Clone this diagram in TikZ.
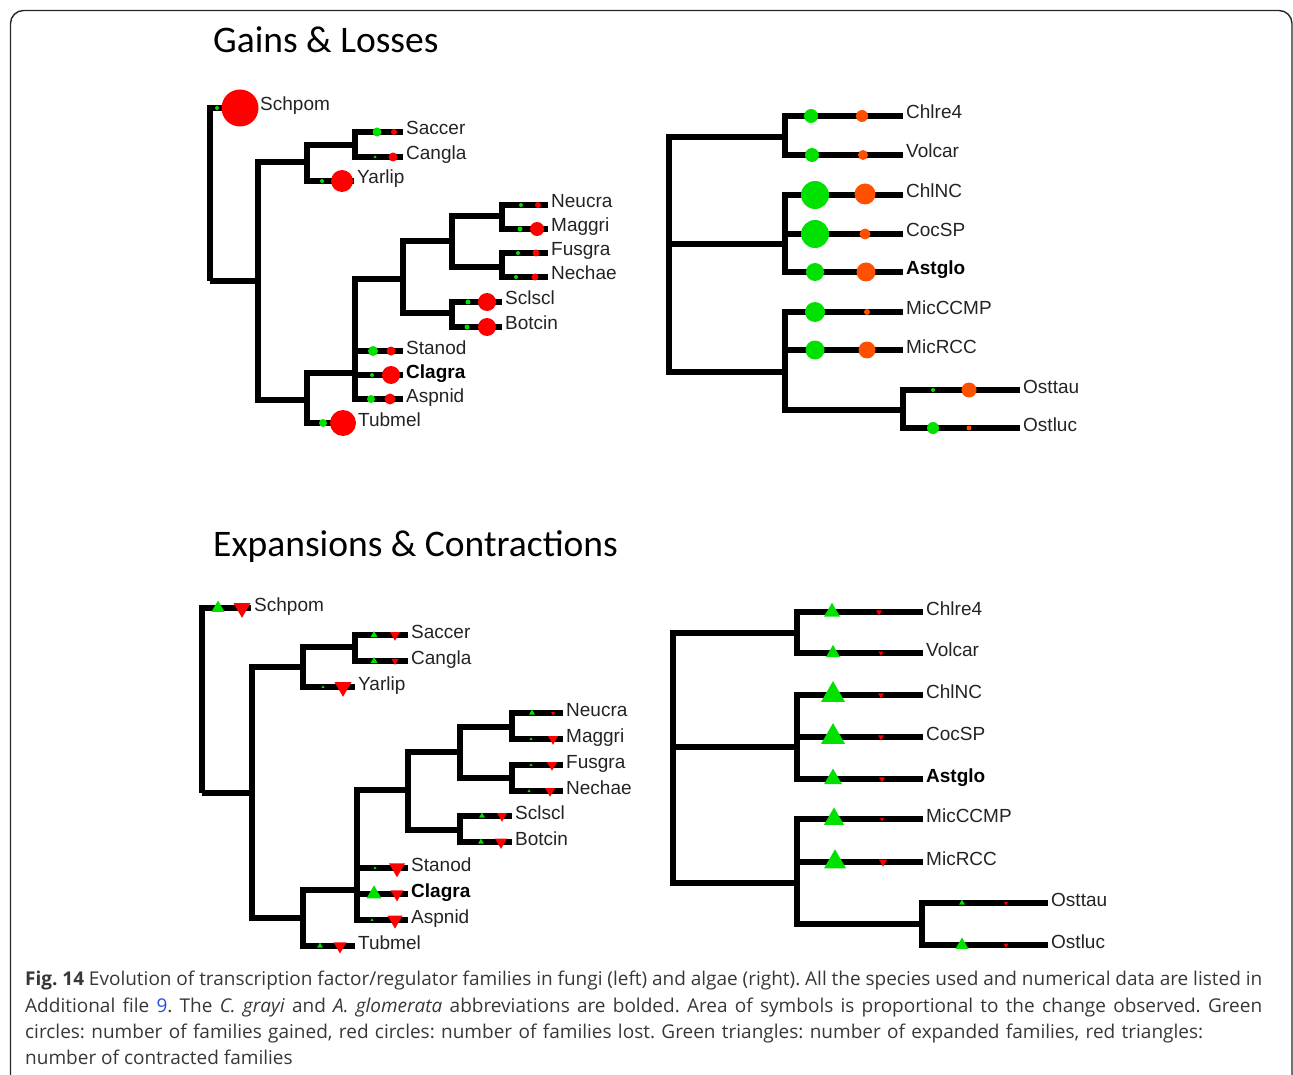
\documentclass[tikz,border=0pt]{standalone}
\usepackage{fontspec}
\setmainfont{Liberation Sans}
\newfontfamily\titlefont{Carlito}
\newfontfamily\capfont{Open Sans}
\usetikzlibrary{shapes.geometric}
\definecolor{gn}{RGB}{0,225,0}
\definecolor{rd}{RGB}{255,0,0}
\definecolor{og}{RGB}{255,80,0}
\definecolor{txt}{RGB}{35,35,35}
\definecolor{capc}{RGB}{55,55,55}
\definecolor{lnk}{RGB}{30,80,220}
\frenchspacing
\begin{document}
\begin{tikzpicture}[x=1pt,y=-1pt,
  branch/.style={line width=6.7pt, line join=miter, draw=black},
  mdot/.style={circle, inner sep=0pt, minimum size=#1, draw=none},
  gain/.style={mdot=#1, fill=gn},
  loss/.style={mdot=#1, fill=rd},
  losso/.style={mdot=#1, fill=og},
  mtri/.style={regular polygon, regular polygon sides=3, inner sep=0pt, minimum size={1.155*#1}, draw=none},
  expd/.style={mtri=#1, fill=gn},
  cntr/.style={mtri=#1, fill=rd, shape border rotate=180},
  leaflab/.style={anchor=base west, inner sep=0pt, xshift=3pt, yshift=-3pt, font=\fontsize{19}{22}\selectfont, text=txt},
  boldlab/.style={leaflab, font=\fontsize{19}{22}\selectfont\bfseries, text=black},
  ttl/.style={anchor=base west, inner sep=0pt, font=\titlefont\fontsize{37.5}{40}\selectfont, text=black},
  captxt/.style={anchor=base west, inner sep=0pt, font=\capfont\fontsize{19}{24}\selectfont\frenchspacing, text=capc}
]
\useasboundingbox (0,0) rectangle (1293,1075);
\begin{scope}
\clip (0,0) rectangle (1293,1075);
\draw[line width=1.4pt, draw=black!85, rounded corners=13pt] (10.5,1100) -- (10.5,10.5) -- (1292,10.5) -- (1292,1100);
\end{scope}

% titles
\node[ttl] (t1) at (213,53) {Gains \& Losses};
\node[ttl] (t2) at (213,556) {Expansions \& Contractions};

% ---------- top-left tree ----------
\coordinate (aT0) at (210,281);
\coordinate (aT1) at (258,281);
\coordinate (aT2) at (307,162);
\coordinate (aT3) at (355,145);
\coordinate (aT5) at (307,400);
\coordinate (aT6) at (355,373);
\coordinate (aT7) at (403,279);
\coordinate (aT8) at (452,241);
\coordinate (aT9) at (502,216);
\coordinate (aT10) at (502,267);
\coordinate (aT11) at (452,313);
\coordinate (aSchpom) at (257,108);
\coordinate (aSaccer) at (403,132);
\coordinate (aCangla) at (403,157);
\coordinate (aYarlip) at (354,181);
\coordinate (aNeucra) at (548,205);
\coordinate (aMaggri) at (548,229);
\coordinate (aFusgra) at (548,253);
\coordinate (aNechae) at (548,277);
\coordinate (aSclscl) at (502,302);
\coordinate (aBotcin) at (502,327);
\coordinate (aStanod) at (403,351);
\coordinate (aClagra) at (403,375);
\coordinate (aAspnid) at (403,399);
\coordinate (aTubmel) at (355,423);
\draw[branch] (aT0) -- (aT1);
\foreach \p/\c in {aT0/aSchpom, aT1/aT2, aT1/aT5, aT2/aT3, aT2/aYarlip, aT3/aSaccer, aT3/aCangla,
  aT5/aT6, aT5/aTubmel, aT6/aT7, aT6/aStanod, aT6/aClagra, aT6/aAspnid, aT7/aT8, aT7/aT11,
  aT8/aT9, aT8/aT10, aT9/aNeucra, aT9/aMaggri, aT10/aFusgra, aT10/aNechae, aT11/aSclscl, aT11/aBotcin}
  \draw[branch] (\p) |- (\c);
\node[gain=4] (aSchpomG) at (217,108) {};  \node[loss=37] (aSchpomR) at (240,108) {};
\node[gain=9] (aSaccerG) at (377,132) {};  \node[loss=6] (aSaccerR) at (394,132) {};
\node[gain=3] (aCanglaG) at (375,157) {};  \node[loss=9] (aCanglaR) at (393,157) {};
\node[gain=4] (aYarlipG) at (322,181) {};  \node[loss=22] (aYarlipR) at (342,181) {};
\node[gain=4] (aNeucraG) at (521,205) {};  \node[loss=6] (aNeucraR) at (538,205) {};
\node[gain=5] (aMaggriG) at (520,229) {};  \node[loss=14] (aMaggriR) at (537,229) {};
\node[gain=4] (aFusgraG) at (518,253) {};  \node[loss=7] (aFusgraR) at (536,253) {};
\node[gain=4] (aNechaeG) at (516,277) {};  \node[loss=7] (aNechaeR) at (535,277) {};
\node[gain=5] (aSclsclG) at (468,302) {};  \node[loss=18] (aSclsclR) at (487,302) {};
\node[gain=5] (aBotcinG) at (467,327) {};  \node[loss=18] (aBotcinR) at (487,327) {};
\node[gain=10] (aStanodG) at (373,351) {}; \node[loss=9] (aStanodR) at (391,351) {};
\node[gain=4] (aClagraG) at (372,375) {};  \node[loss=18] (aClagraR) at (391,375) {};
\node[gain=8] (aAspnidG) at (371,399) {};  \node[loss=11] (aAspnidR) at (390,399) {};
\node[gain=8] (aTubmelG) at (323,423) {};  \node[loss=26] (aTubmelR) at (343,423) {};
\node[leaflab] (aSchpomL) at (aSchpom) {Schpom};
\node[leaflab] (aSaccerL) at (aSaccer) {Saccer};
\node[leaflab] (aCanglaL) at (aCangla) {Cangla};
\node[leaflab] (aYarlipL) at (aYarlip) {Yarlip};
\node[leaflab] (aNeucraL) at (aNeucra) {Neucra};
\node[leaflab] (aMaggriL) at (aMaggri) {Maggri};
\node[leaflab] (aFusgraL) at (aFusgra) {Fusgra};
\node[leaflab] (aNechaeL) at (aNechae) {Nechae};
\node[leaflab] (aSclsclL) at (aSclscl) {Sclscl};
\node[leaflab] (aBotcinL) at (aBotcin) {Botcin};
\node[leaflab] (aStanodL) at (aStanod) {Stanod};
\node[boldlab] (aClagraL) at (aClagra) {Clagra};
\node[leaflab] (aAspnidL) at (aAspnid) {Aspnid};
\node[leaflab] (aTubmelL) at (aTubmel) {Tubmel};

% ---------- top-right tree ----------
\coordinate (bR0) at (669,244);
\coordinate (bR1) at (785,137);
\coordinate (bR2) at (785,244);
\coordinate (bR3) at (785,372);
\coordinate (bR4) at (903,410);
\coordinate (bChlre4) at (903,116);
\coordinate (bVolcar) at (903,155);
\coordinate (bChlNC) at (903,195);
\coordinate (bCocSP) at (903,234);
\coordinate (bAstglo) at (903,272);
\coordinate (bMicCCMP) at (903,312);
\coordinate (bMicRCC) at (903,350);
\coordinate (bOsttau) at (1020,390);
\coordinate (bOstluc) at (1020,428);
\draw[branch] (bR0) -- (bR2);
\foreach \p/\c in {bR0/bR1, bR0/bR3, bR1/bChlre4, bR1/bVolcar, bR2/bChlNC, bR2/bCocSP, bR2/bAstglo,
  bR3/bMicCCMP, bR3/bMicRCC, bR3/bR4, bR4/bOsttau, bR4/bOstluc}
  \draw[branch] (\p) |- (\c);
\node[gain=14] (bChlre4G) at (811,116) {};  \node[losso=12] (bChlre4R) at (862,116) {};
\node[gain=14] (bVolcarG) at (812,155) {};  \node[losso=10] (bVolcarR) at (863,155) {};
\node[gain=28] (bChlNCG) at (815,195) {};   \node[losso=21] (bChlNCR) at (865,194) {};
\node[gain=28] (bCocSPG) at (815,234) {};   \node[losso=11] (bCocSPR) at (865,234) {};
\node[gain=18] (bAstgloG) at (815,272) {};  \node[losso=19] (bAstgloR) at (866,272) {};
\node[gain=20] (bMicCCMPG) at (815,312) {}; \node[losso=6] (bMicCCMPR) at (867,312) {};
\node[gain=19] (bMicRCCG) at (815,350) {};  \node[losso=17] (bMicRCCR) at (867,350) {};
\node[gain=4] (bOsttauG) at (933,390) {};   \node[losso=15] (bOsttauR) at (969,390) {};
\node[gain=12] (bOstlucG) at (933,428) {};  \node[losso=5] (bOstlucR) at (969,428) {};
\node[leaflab] (bChlre4L) at (bChlre4) {Chlre4};
\node[leaflab] (bVolcarL) at (bVolcar) {Volcar};
\node[leaflab] (bChlNCL) at (bChlNC) {ChlNC};
\node[leaflab] (bCocSPL) at (bCocSP) {CocSP};
\node[boldlab] (bAstgloL) at (bAstglo) {Astglo};
\node[leaflab] (bMicCCMPL) at (bMicCCMP) {MicCCMP};
\node[leaflab] (bMicRCCL) at (bMicRCC) {MicRCC};
\node[leaflab] (bOsttauL) at (bOsttau) {Osttau};
\node[leaflab] (bOstlucL) at (bOstluc) {Ostluc};

% ---------- bottom-left tree ----------
\coordinate (cT0) at (202,793);
\coordinate (cT1) at (252,793);
\coordinate (cT2) at (303,667);
\coordinate (cT3) at (355,647);
\coordinate (cT5) at (303,918);
\coordinate (cT6) at (357,890);
\coordinate (cT7) at (408,790);
\coordinate (cT8) at (460,752);
\coordinate (cT9) at (512,727);
\coordinate (cT10) at (512,778);
\coordinate (cT11) at (460,830);
\coordinate (cSchpom) at (251,608);
\coordinate (cSaccer) at (408,635);
\coordinate (cCangla) at (408,661);
\coordinate (cYarlip) at (355,687);
\coordinate (cNeucra) at (563,713);
\coordinate (cMaggri) at (563,739);
\coordinate (cFusgra) at (563,765);
\coordinate (cNechae) at (563,791);
\coordinate (cSclscl) at (512,816);
\coordinate (cBotcin) at (512,842);
\coordinate (cStanod) at (408,868);
\coordinate (cClagra) at (408,894);
\coordinate (cAspnid) at (408,920);
\coordinate (cTubmel) at (355,946);
\draw[branch] (cT0) -- (cT1);
\foreach \p/\c in {cT0/cSchpom, cT1/cT2, cT1/cT5, cT2/cT3, cT2/cYarlip, cT3/cSaccer, cT3/cCangla,
  cT5/cT6, cT5/cTubmel, cT6/cT7, cT6/cStanod, cT6/cClagra, cT6/cAspnid, cT7/cT8, cT7/cT11,
  cT8/cT9, cT8/cT10, cT9/cNeucra, cT9/cMaggri, cT10/cFusgra, cT10/cNechae, cT11/cSclscl, cT11/cBotcin}
  \draw[branch] (\p) |- (\c);
\node[expd=13] (cSchpomG) at (218,608) {}; \node[cntr=17] (cSchpomR) at (242,608) {};
\node[expd=7] (cSaccerG) at (374,635) {};  \node[cntr=10] (cSaccerR) at (395,635) {};
\node[expd=7] (cCanglaG) at (374,661) {};  \node[cntr=7] (cCanglaR) at (395,661) {};
\node[expd=3] (cYarlipG) at (323,687) {};  \node[cntr=17] (cYarlipR) at (343,687) {};
\node[expd=6] (cNeucraG) at (532,713) {};  \node[cntr=4] (cNeucraR) at (553,713) {};
\node[expd=3] (cMaggriG) at (531,739) {};  \node[cntr=10] (cMaggriR) at (553,739) {};
\node[expd=3] (cFusgraG) at (531,765) {};  \node[cntr=10] (cFusgraR) at (552,765) {};
\node[expd=3] (cNechaeG) at (529,791) {};  \node[cntr=10] (cNechaeR) at (550,791) {};
\node[expd=6] (cSclsclG) at (482,816) {};  \node[cntr=10] (cSclsclR) at (502,816) {};
\node[expd=6] (cBotcinG) at (481,842) {};  \node[cntr=12] (cBotcinR) at (501,842) {};
\node[expd=3] (cStanodG) at (375,868) {};  \node[cntr=16] (cStanodR) at (397,868) {};
\node[expd=15] (cClagraG) at (374,894) {}; \node[cntr=13] (cClagraR) at (397,894) {};
\node[expd=3] (cAspnidG) at (372,920) {};  \node[cntr=15] (cAspnidR) at (395,920) {};
\node[expd=6] (cTubmelG) at (320,946) {};  \node[cntr=13] (cTubmelR) at (340,946) {};
\node[leaflab] (cSchpomL) at (cSchpom) {Schpom};
\node[leaflab] (cSaccerL) at (cSaccer) {Saccer};
\node[leaflab] (cCanglaL) at (cCangla) {Cangla};
\node[leaflab] (cYarlipL) at (cYarlip) {Yarlip};
\node[leaflab] (cNeucraL) at (cNeucra) {Neucra};
\node[leaflab] (cMaggriL) at (cMaggri) {Maggri};
\node[leaflab] (cFusgraL) at (cFusgra) {Fusgra};
\node[leaflab] (cNechaeL) at (cNechae) {Nechae};
\node[leaflab] (cSclsclL) at (cSclscl) {Sclscl};
\node[leaflab] (cBotcinL) at (cBotcin) {Botcin};
\node[leaflab] (cStanodL) at (cStanod) {Stanod};
\node[boldlab] (cClagraL) at (cClagra) {Clagra};
\node[leaflab] (cAspnidL) at (cAspnid) {Aspnid};
\node[leaflab] (cTubmelL) at (cTubmel) {Tubmel};

% ---------- bottom-right tree ----------
\coordinate (dR0) at (673,747);
\coordinate (dR1) at (797,633);
\coordinate (dR2) at (797,747);
\coordinate (dR3) at (797,883);
\coordinate (dR4) at (922,924);
\coordinate (dChlre4) at (923,612);
\coordinate (dVolcar) at (923,653);
\coordinate (dChlNC) at (923,695);
\coordinate (dCocSP) at (923,737);
\coordinate (dAstglo) at (923,779);
\coordinate (dMicCCMP) at (923,819);
\coordinate (dMicRCC) at (923,862);
\coordinate (dOsttau) at (1048,903);
\coordinate (dOstluc) at (1048,945);
\draw[branch] (dR0) -- (dR2);
\foreach \p/\c in {dR0/dR1, dR0/dR3, dR1/dChlre4, dR1/dVolcar, dR2/dChlNC, dR2/dCocSP, dR2/dAstglo,
  dR3/dMicCCMP, dR3/dMicRCC, dR3/dR4, dR4/dOsttau, dR4/dOstluc}
  \draw[branch] (\p) |- (\c);
\node[expd=16] (dChlre4G) at (832,612) {};  \node[cntr=6] (dChlre4R) at (879,612) {};
\node[expd=14] (dVolcarG) at (833,653) {};  \node[cntr=5] (dVolcarR) at (881,653) {};
\node[expd=24] (dChlNCG) at (833,695) {};   \node[cntr=6] (dChlNCR) at (881,695) {};
\node[expd=24] (dCocSPG) at (833,737) {};   \node[cntr=6] (dCocSPR) at (881,737) {};
\node[expd=18] (dAstgloG) at (833,779) {};  \node[cntr=6] (dAstgloR) at (882,779) {};
\node[expd=20] (dMicCCMPG) at (834,819) {}; \node[cntr=4] (dMicCCMPR) at (882,819) {};
\node[expd=22] (dMicRCCG) at (835,862) {};  \node[cntr=8] (dMicRCCR) at (883,862) {};
\node[expd=6] (dOsttauG) at (962,903) {};   \node[cntr=4] (dOsttauR) at (1006,903) {};
\node[expd=13] (dOstlucG) at (962,945) {};  \node[cntr=5] (dOstlucR) at (1006,945) {};
\node[leaflab] (dChlre4L) at (dChlre4) {Chlre4};
\node[leaflab] (dVolcarL) at (dVolcar) {Volcar};
\node[leaflab] (dChlNCL) at (dChlNC) {ChlNC};
\node[leaflab] (dCocSPL) at (dCocSP) {CocSP};
\node[boldlab] (dAstgloL) at (dAstglo) {Astglo};
\node[leaflab] (dMicCCMPL) at (dMicCCMP) {MicCCMP};
\node[leaflab] (dMicRCCL) at (dMicRCC) {MicRCC};
\node[leaflab] (dOsttauL) at (dOsttau) {Osttau};
\node[leaflab] (dOstlucL) at (dOstluc) {Ostluc};

% ---------- caption ----------
\node[captxt] (cap1) at (25,985) {\makebox[1237pt][s]{\textbf{Fig. 14} Evolution of transcription factor/regulator families in fungi (left) and algae (right). All the species used and numerical data are listed in}};
\node[captxt] (cap2) at (25,1012) {\makebox[1237pt][s]{Additional file \textcolor{lnk}{9}. The \textit{C. grayi} and \textit{A. glomerata} abbreviations are bolded. Area of symbols is proportional to the change observed. Green}};
\node[captxt] (cap3) at (25,1038.5) {\makebox[1178pt][s]{circles: number of families gained, red circles: number of families lost. Green triangles: number of expanded families, red triangles:}};
\node[captxt] (cap4) at (25,1064) {number of contracted families};
\end{tikzpicture}
\end{document}
